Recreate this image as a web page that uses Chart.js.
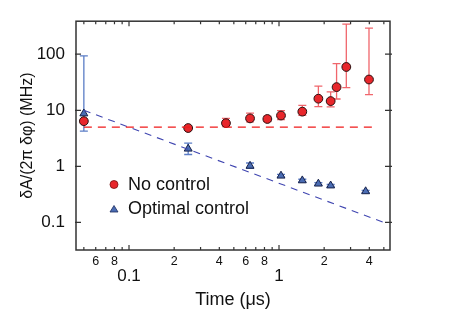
<!DOCTYPE html>
<html>
<head>
<meta charset="utf-8">
<script src="https://cdn.jsdelivr.net/npm/chart.js@4/dist/chart.umd.min.js"></script>
<style>
  html, body { margin: 0; padding: 0; background: #fff; }
  canvas { display: block; }
</style>
</head>
<body>
<canvas id="decay-chart" width="450" height="324"></canvas>
<script>
// Values
const timeNoControl = [0.05, 0.248, 0.443, 0.641, 0.836, 1.031, 1.43, 1.83, 2.21, 2.42, 2.81, 3.98];
const ampNoControl = [6.4, 4.83, 5.9, 7.17, 7.0, 8.07, 9.46, 16.1, 14.6, 25.9, 59.2, 35.4];
const errLowNoControl = [null, null, 5.1, 6.2, 6.3, 6.8, 8.1, 11.6, 11.5, 15.9, 25.3, 19];
const errHighNoControl = [null, null, 7.2, 8.9, 7.9, 9.9, 12.2, 27, 21.3, 67.9, 343, 293];

const timeOptimal = [0.05, 0.248, 0.641, 1.031, 1.43, 1.83, 2.21, 3.78];
const ampOptimal = [8.74, 2.06, 1.02, 0.68, 0.56, 0.49, 0.454, 0.358];
const errLowOptimal = [4.25, 1.63, 0.92, 0.64, 0.53, 0.465, 0.43, 0.34];
const errHighOptimal = [93.5, 2.59, 1.15, 0.72, 0.59, 0.515, 0.475, 0.375];

// Dashed guide lines
const fitNoControlX = [0.05, 4.42];
const fitNoControlY = [5, 5];
const fitOptimalX = [0.05, 5];
const fitOptimalY = [10, 0.1];

// Axis ticks
const xTicks = [0.05, 0.06, 0.07, 0.08, 0.09, 0.1, 0.2, 0.3, 0.4, 0.5, 0.6, 0.7, 0.8, 0.9, 1, 2, 3, 4, 5];
const xTickLabels = ['', '6', '', '8', '', '0.1', '2', '', '4', '', '6', '', '8', '', '1', '2', '', '4', ''];
const xMajorTicks = [0.1, 1];
const yTicks = [0.1, 1, 10, 100];
const yTickLabels = ['0.1', '1', '10', '100'];

const FONT = '"Liberation Sans", Arial, Helvetica, sans-serif';
const RED = '#e8262b';
const BLUE = '#4a6cb3';

const toPoints = (xs, ys) => xs.map((x, i) => ({ x: x, y: ys[i] }));

// Error bars, frame, inward ticks and legend
const extrasPlugin = {
  id: 'extras',
  beforeDatasetsDraw(chart) {
    const { ctx, scales: { x, y } } = chart;
    const bars = [
      { xs: timeNoControl, lo: errLowNoControl, hi: errHighNoControl, color: '#f0666c' },
      { xs: timeOptimal, lo: errLowOptimal, hi: errHighOptimal, color: '#5b7dc6' }
    ];
    ctx.save();
    ctx.lineWidth = 1.3;
    bars.forEach(b => {
      ctx.strokeStyle = b.color;
      b.xs.forEach((t, i) => {
        if (b.lo[i] == null) return;
        const px = x.getPixelForValue(t);
        const y1 = y.getPixelForValue(b.lo[i]);
        const y2 = y.getPixelForValue(b.hi[i]);
        ctx.beginPath();
        ctx.moveTo(px, y1); ctx.lineTo(px, y2);
        ctx.moveTo(px - 4, y1); ctx.lineTo(px + 4, y1);
        ctx.moveTo(px - 4, y2); ctx.lineTo(px + 4, y2);
        ctx.stroke();
      });
    });
    ctx.restore();
  },
  afterDraw(chart) {
    const { ctx, chartArea: a, scales: { x, y } } = chart;
    ctx.save();
    ctx.strokeStyle = '#333';
    ctx.lineWidth = 1.5;
    ctx.strokeRect(a.left, a.top, a.right - a.left, a.bottom - a.top);

    ctx.lineWidth = 1.2;
    ctx.beginPath();
    xTicks.forEach(v => {
      const px = x.getPixelForValue(v);
      const len = xMajorTicks.includes(v) ? 5 : 3;
      ctx.moveTo(px, a.bottom); ctx.lineTo(px, a.bottom - len);
      ctx.moveTo(px, a.top); ctx.lineTo(px, a.top + len);
    });
    yTicks.forEach(v => {
      const py = y.getPixelForValue(v);
      ctx.moveTo(a.left - 1, py); ctx.lineTo(a.left + 5, py);
      ctx.moveTo(a.right - 5, py); ctx.lineTo(a.right + 2, py);
    });
    ctx.stroke();

    // Legend inside the plot
    const lx = a.left + 38;
    ctx.fillStyle = RED;
    ctx.strokeStyle = '#7a1010';
    ctx.lineWidth = 0.8;
    ctx.beginPath();
    ctx.arc(lx, 184.5, 4, 0, Math.PI * 2);
    ctx.fill(); ctx.stroke();
    ctx.fillStyle = BLUE;
    ctx.strokeStyle = '#1d2c5e';
    ctx.beginPath();
    ctx.moveTo(lx, 205.5); ctx.lineTo(lx + 4, 212); ctx.lineTo(lx - 4, 212); ctx.closePath();
    ctx.fill(); ctx.stroke();

    ctx.fillStyle = '#111';
    ctx.font = '18px ' + FONT;
    ctx.textBaseline = 'middle';
    ctx.textAlign = 'left';
    ctx.fillText('No control', lx + 14, 185);
    ctx.fillText('Optimal control', lx + 14, 209.5);
    ctx.restore();
  }
};

// Chart Setup
const ctx = document.getElementById('decay-chart').getContext('2d');
const decayChart = new Chart(ctx, {
  type: 'scatter',
  data: {
    datasets: [
      {
        label: 'No control fit',
        data: toPoints(fitNoControlX, fitNoControlY),
        showLine: true,
        borderColor: '#f01a1a',
        borderWidth: 1.3,
        borderDash: [8, 6],
        pointRadius: 0
      },
      {
        label: 'Optimal control fit',
        data: toPoints(fitOptimalX, fitOptimalY),
        showLine: true,
        borderColor: '#3f45b0',
        borderWidth: 1.1,
        borderDash: [7, 6],
        pointRadius: 0
      },
      {
        label: 'No control',
        data: toPoints(timeNoControl, ampNoControl),
        pointStyle: 'circle',
        pointRadius: 4.4,
        backgroundColor: RED,
        borderColor: '#2a1010',
        borderWidth: 1
      },
      {
        label: 'Optimal control',
        data: toPoints(timeOptimal, ampOptimal),
        pointStyle: 'triangle',
        pointRadius: 4.6,
        backgroundColor: BLUE,
        borderColor: '#17224a',
        borderWidth: 1
      }
    ]
  },
  options: {
    responsive: false,
    animation: false,
    devicePixelRatio: 1,
    layout: { padding: { top: 12, right: 60, left: 0, bottom: 0 } },
    plugins: {
      legend: { display: false },
      tooltip: { enabled: false }
    },
    scales: {
      x: {
        type: 'logarithmic',
        min: 0.04432,
        max: 5.495,
        grid: { display: false, drawTicks: false },
        border: { display: false },
        afterBuildTicks: scale => { scale.ticks = xTicks.map(v => ({ value: v })); },
        afterFit: scale => { scale.height = 74; },
        ticks: {
          autoSkip: false,
          maxRotation: 0,
          padding: 4.5,
          color: '#111',
          font: c => xMajorTicks.includes(c.tick && c.tick.value)
            ? { family: FONT, size: 17, lineHeight: 2.6 }
            : { family: FONT, size: 12.5, lineHeight: 1.2 },
          callback: (value, index) => xTickLabels[index]
        },
        title: {
          display: true,
          text: 'Time (\u03bcs)',
          color: '#111',
          font: { family: FONT, size: 18 },
          padding: { top: 0, bottom: 13 }
        }
      },
      y: {
        type: 'logarithmic',
        min: 0.0323,
        max: 387.8,
        grid: { display: false, drawTicks: false },
        border: { display: false },
        afterBuildTicks: scale => { scale.ticks = yTicks.map(v => ({ value: v })); },
        afterFit: scale => { scale.width = 76; },
        ticks: {
          padding: 11,
          color: '#111',
          font: { family: FONT, size: 17 },
          callback: (value, index) => yTickLabels[index]
        },
        title: {
          display: true,
          text: '\u03b4A/(2\u03c0 \u03b4\u03c6) (MHz)',
          color: '#111',
          font: { family: FONT, size: 16 },
          padding: { top: 18, bottom: 0 }
        }
      }
    }
  },
  plugins: [extrasPlugin]
});
</script>
</body>
</html>
